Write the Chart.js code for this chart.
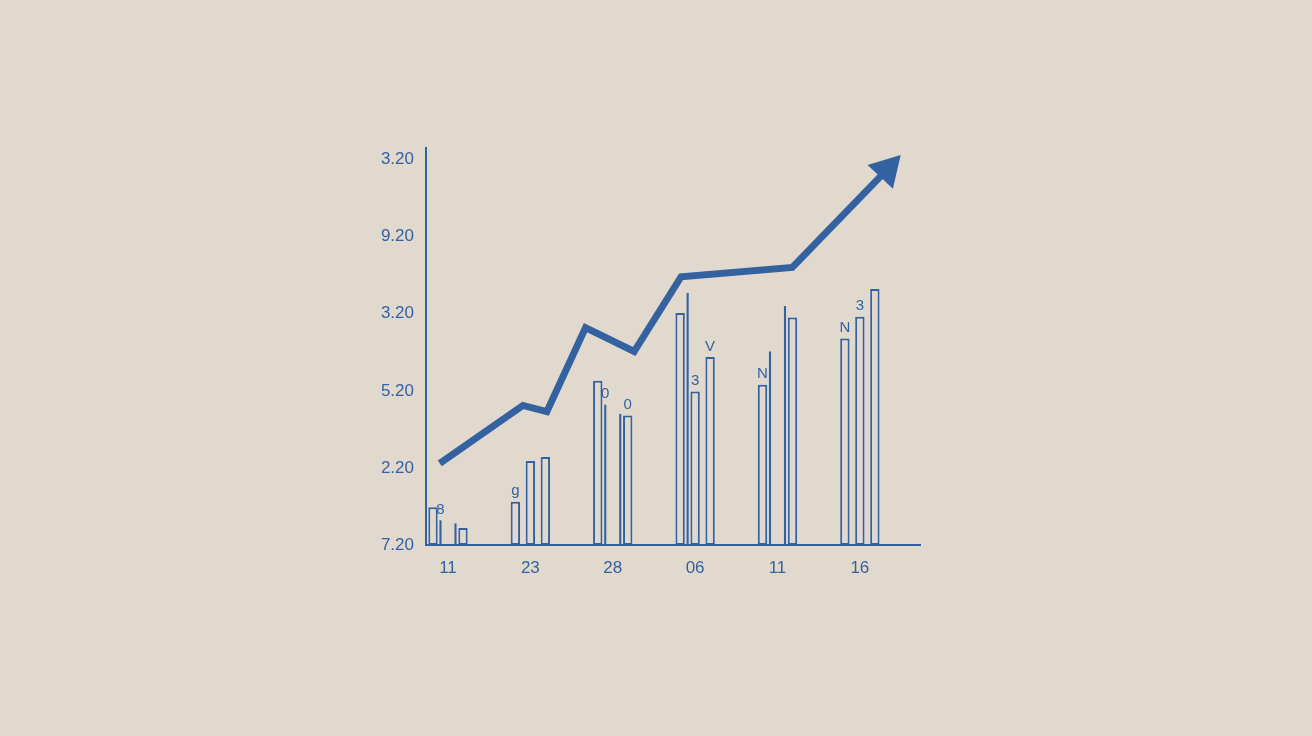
<!DOCTYPE html>
<html>
<head>
<meta charset="utf-8">
<script src="https://cdn.jsdelivr.net/npm/chart.js@4.4.1/dist/chart.umd.min.js"></script>
<style>
    html, body { margin: 0; padding: 0; background: #e1d8ce; }
    #wrap { width: 1312px; height: 736px; }
    canvas { display: block; }
</style>
</head>
<body>
<div id="wrap"><canvas id="chart" width="1312" height="736"></canvas></div>
<script>
// ---- data ----
const categories = ['11', '23', '28', '06', '11', '16'];
const yTickLabels = ['7.20', '2.20', '5.20', '3.20', '9.20', '3.20'];

const seriesA = [0.49, 0.56, 2.13, 3.01, 2.08, 2.68];   // wide, left
const seriesB = [0.32, null, 1.82, 3.27, 2.51, null];   // thin
const seriesC = [null, 1.09, null, 1.99, null, 2.96];   // wide, middle
const seriesD = [0.28, null, 1.70, null, 3.10, null];   // thin
const seriesE = [0.22, 1.14, 1.68, 2.44, 2.95, 3.32];   // wide, right

const trendX = [-0.1, 0.91, 1.2, 1.67, 2.26, 2.83, 4.18, 5.33];
const trendY = [1.06, 1.81, 1.73, 2.82, 2.51, 3.48, 3.60, 4.87];

// little glyphs sitting on top of some bars: [category, series, text]
const barNotes = [[0, 1, '8'], [1, 0, 'g'], [2, 1, '0'], [2, 4, '0'], [3, 2, '3'], [3, 4, 'V'], [4, 0, 'N'], [5, 0, 'N'], [5, 2, '3']];

const BLUE = '#3462a0';
const BG = '#e1d8ce';
const FONT = '"Liberation Sans", Arial, sans-serif';

function toPoints(values) {
    return values.map(function (v, i) { return { x: i, y: v }; });
}

function wideBar(values) {
    return {
        type: 'bar',
        data: toPoints(values),
        backgroundColor: BG,
        borderColor: BLUE,
        borderWidth: 2,
        borderSkipped: false,
        barPercentage: 1.25,
        categoryPercentage: 0.455,
        order: 2
    };
}

function thinBar(values) {
    return {
        type: 'bar',
        data: toPoints(values),
        backgroundColor: BLUE,
        borderWidth: 0,
        barPercentage: 0.28,
        categoryPercentage: 0.455,
        order: 2
    };
}

const pointRadii = trendX.map(function (_, i) { return i === trendX.length - 1 ? 20 : 0; });

const notesPlugin = {
    id: 'barNotes',
    afterDatasetsDraw: function (chart) {
        const ctx = chart.ctx;
        ctx.save();
        ctx.fillStyle = BLUE;
        ctx.font = '15px ' + FONT;
        ctx.textAlign = 'center';
        ctx.textBaseline = 'bottom';
        barNotes.forEach(function (n) {
            const el = chart.getDatasetMeta(n[1]).data[n[0]];
            if (!el || isNaN(el.y)) return;
            ctx.fillText(n[2], el.x, el.y - 3);
        });
        ctx.restore();
    }
};

new Chart(document.getElementById('chart'), {
    data: {
        datasets: [
            wideBar(seriesA),
            thinBar(seriesB),
            wideBar(seriesC),
            thinBar(seriesD),
            wideBar(seriesE),
            {
                type: 'line',
                data: trendX.map(function (x, i) { return { x: x, y: trendY[i] }; }),
                borderColor: BLUE,
                borderWidth: 7,
                borderJoinStyle: 'miter',
                tension: 0,
                pointRadius: pointRadii,
                pointHoverRadius: pointRadii,
                pointStyle: 'triangle',
                rotation: 43,
                pointBackgroundColor: BLUE,
                pointBorderWidth: 0,
                clip: false,
                order: 1
            }
        ]
    },
    options: {
        responsive: false,
        animation: false,
        events: [],
        layout: { padding: { left: 366, right: 392, top: 148, bottom: 151 } },
        plugins: { legend: { display: false }, tooltip: { enabled: false } },
        scales: {
            x: {
                type: 'linear',
                offset: false,
                min: -0.267,
                max: 5.73,
                grid: { display: false, drawTicks: false, offset: false },
                border: { display: true, color: BLUE, width: 2 },
                afterBuildTicks: function (s) {
                    s.ticks = categories.map(function (_, i) { return { value: i }; });
                },
                afterFit: function (s) { s.height = 40; },
                ticks: {
                    color: BLUE,
                    padding: 13,
                    maxRotation: 0,
                    font: { family: FONT, size: 17 },
                    callback: function (v, i) { return categories[i]; }
                }
            },
            y: {
                type: 'linear',
                min: 0,
                max: 5.15,
                grid: { display: false, drawTicks: false },
                border: { display: true, color: BLUE, width: 2 },
                afterBuildTicks: function (s) {
                    s.ticks = yTickLabels.map(function (_, i) { return { value: i }; });
                },
                afterFit: function (s) { s.width = 60; },
                ticks: {
                    color: BLUE,
                    padding: 12,
                    font: { family: FONT, size: 17 },
                    callback: function (v, i) { return yTickLabels[i]; }
                }
            }
        }
    },
    plugins: [notesPlugin]
});
</script>
</body>
</html>
